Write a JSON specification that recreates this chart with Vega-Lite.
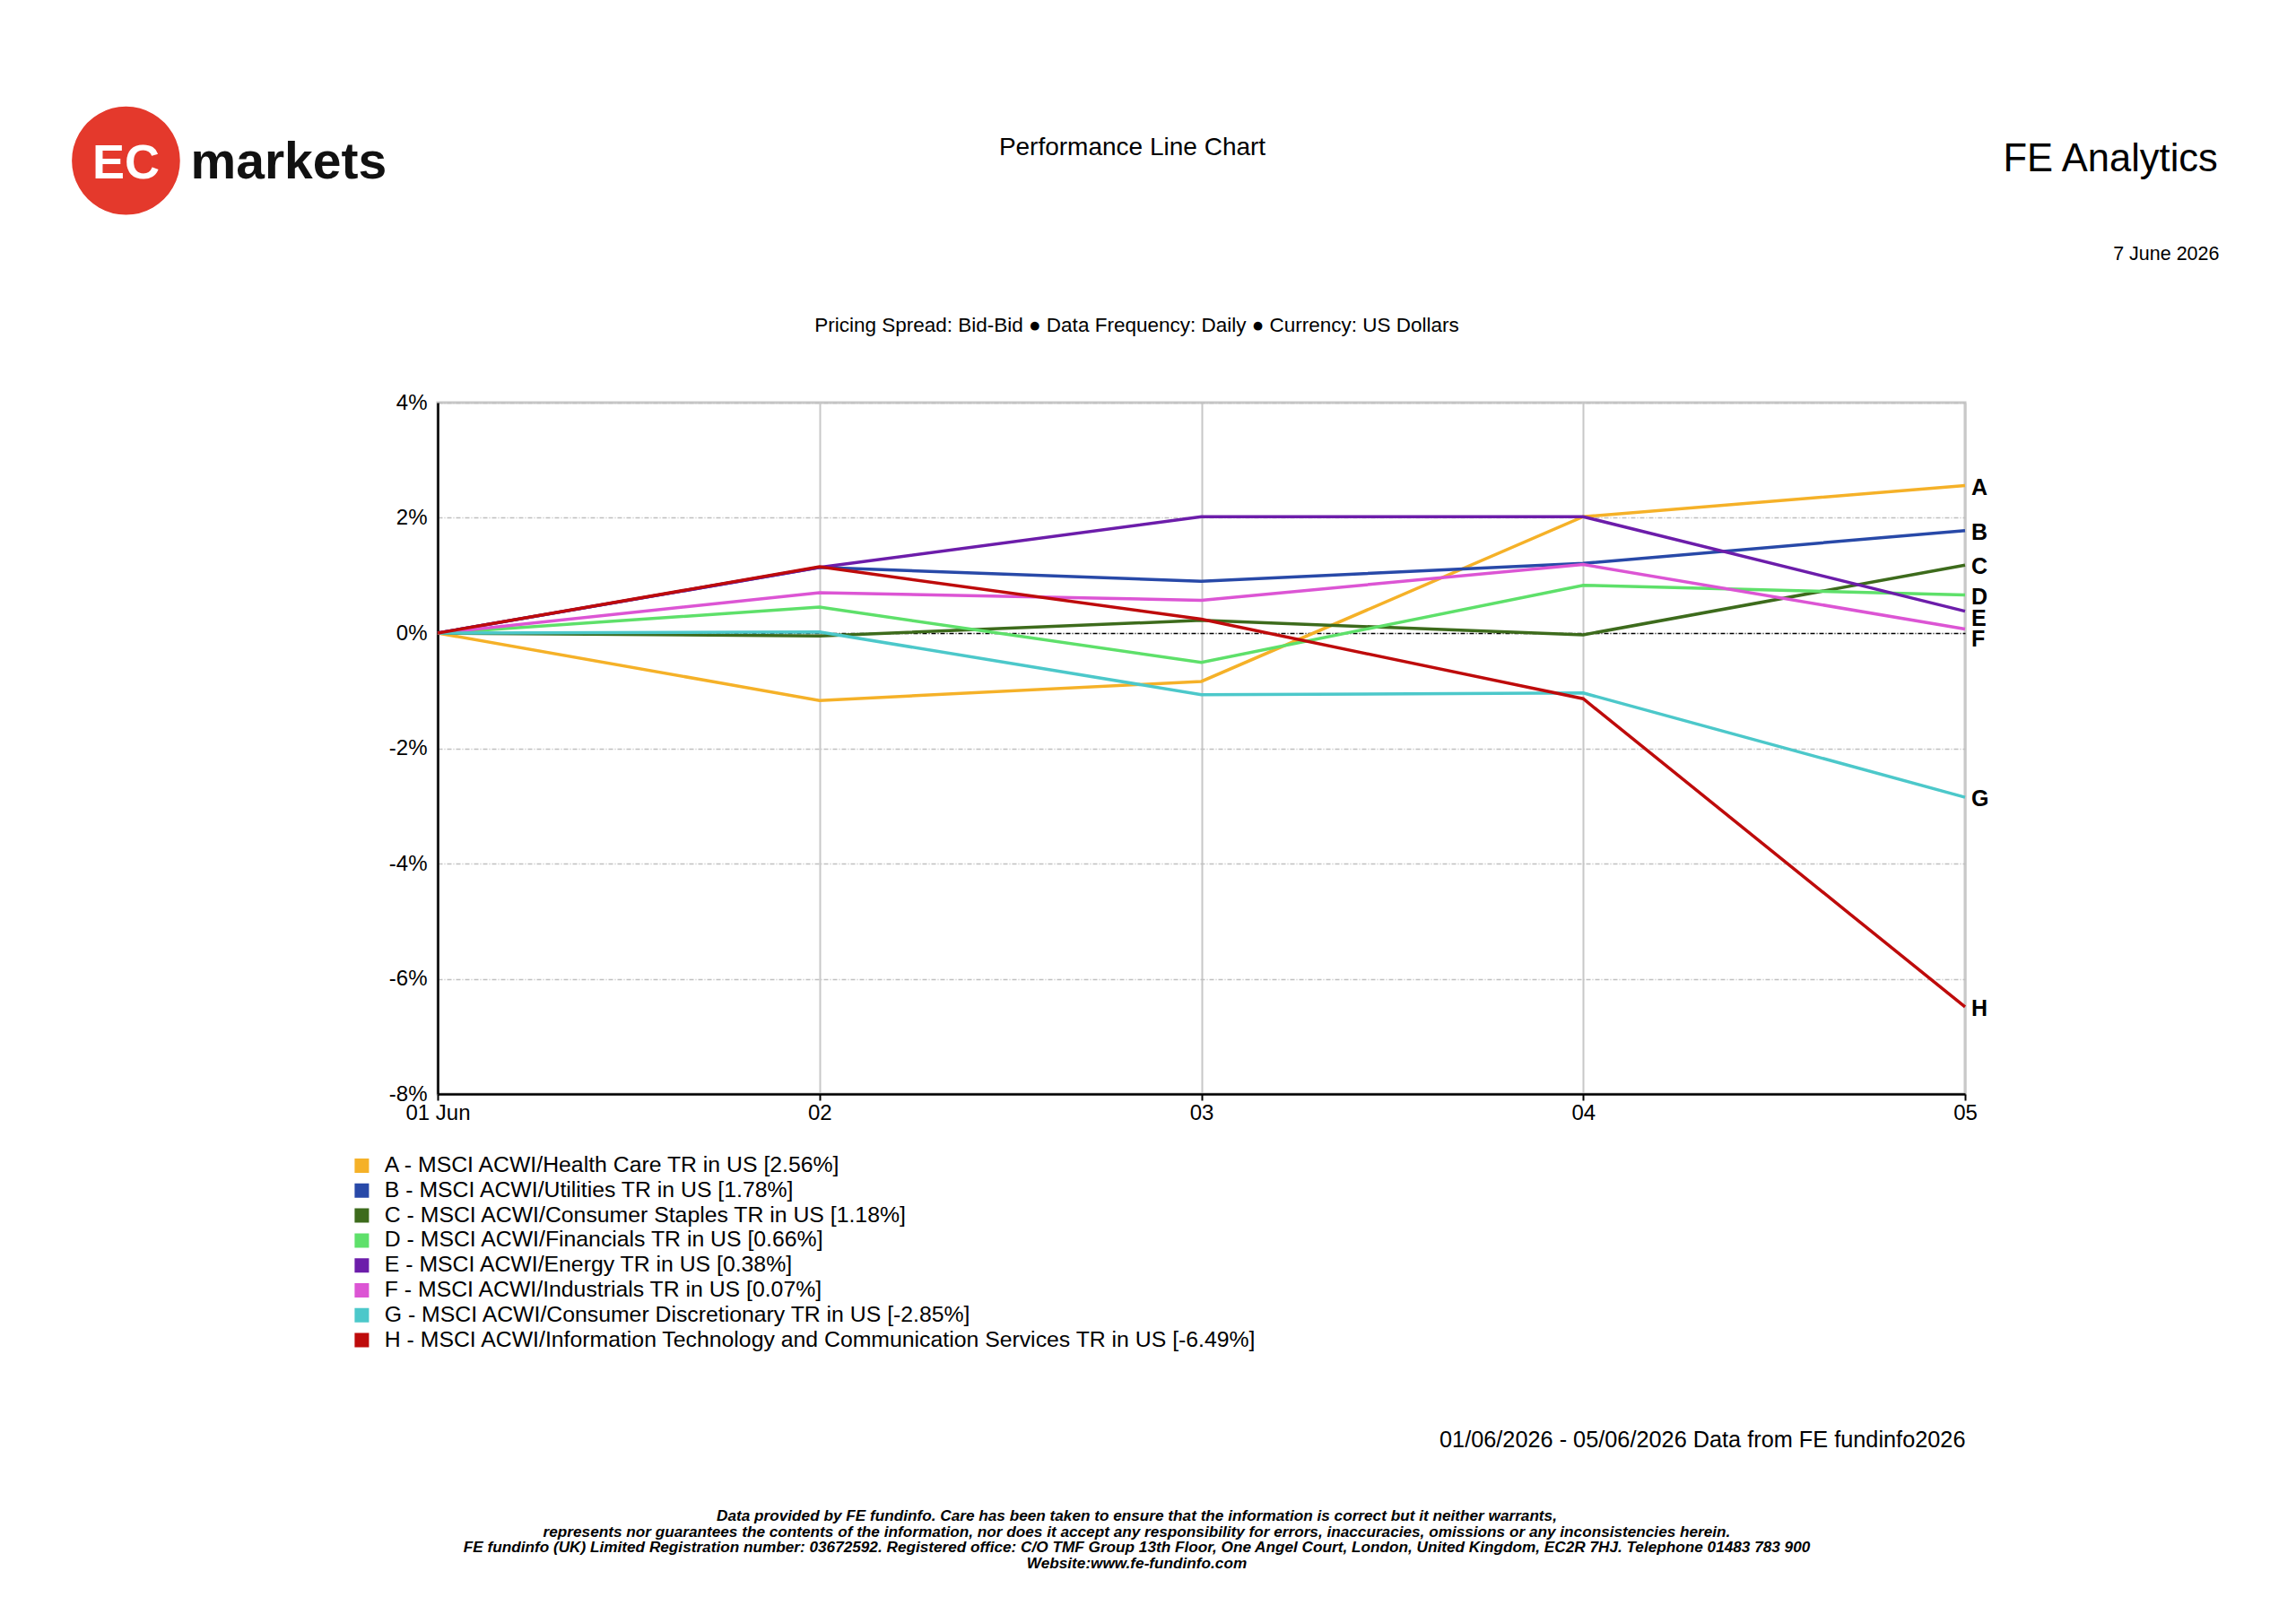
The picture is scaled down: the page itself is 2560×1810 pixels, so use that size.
{
  "$schema": "https://vega.github.io/schema/vega-lite/v6.json",
  "width": 1703,
  "height": 771,
  "autosize": {"type": "none"},
  "padding": {"left": 488, "top": 449, "right": 369, "bottom": 590},
  "background": "white",
  "config": {
    "view": {"stroke": "#C8C8C8", "strokeWidth": 3},
    "font": "Liberation Sans"
  },
  "title": {
    "text": [
      "Data provided by FE fundinfo. Care has been taken to ensure that the information is correct but it neither warrants,",
      "represents nor guarantees the contents of the information, nor does it accept any responsibility for errors, inaccuracies, omissions or any inconsistencies herein.",
      "FE fundinfo (UK) Limited Registration number: 03672592. Registered office: C/O TMF Group 13th Floor, One Angel Court, London, United Kingdom, EC2R 7HJ. Telephone 01483 783 900",
      "Website:www.fe-fundinfo.com"
    ],
    "orient": "bottom",
    "anchor": "middle",
    "frame": "group",
    "dx": -72,
    "offset": 64,
    "font": "Liberation Sans",
    "fontSize": 17.2,
    "fontStyle": "italic",
    "fontWeight": "bold",
    "lineHeight": 17.6,
    "color": "#000000"
  },
  "datasets": {
    "perf": [
      {"letter": "A", "date": "2026-06-01", "value": 0},
      {"letter": "A", "date": "2026-06-02", "value": -1.17},
      {"letter": "A", "date": "2026-06-03", "value": -0.84},
      {"letter": "A", "date": "2026-06-04", "value": 2.02},
      {"letter": "A", "date": "2026-06-05", "value": 2.56},
      {"letter": "B", "date": "2026-06-01", "value": 0},
      {"letter": "B", "date": "2026-06-02", "value": 1.14},
      {"letter": "B", "date": "2026-06-03", "value": 0.9},
      {"letter": "B", "date": "2026-06-04", "value": 1.21},
      {"letter": "B", "date": "2026-06-05", "value": 1.78},
      {"letter": "C", "date": "2026-06-01", "value": 0},
      {"letter": "C", "date": "2026-06-02", "value": -0.05},
      {"letter": "C", "date": "2026-06-03", "value": 0.22},
      {"letter": "C", "date": "2026-06-04", "value": -0.03},
      {"letter": "C", "date": "2026-06-05", "value": 1.18},
      {"letter": "D", "date": "2026-06-01", "value": 0},
      {"letter": "D", "date": "2026-06-02", "value": 0.45},
      {"letter": "D", "date": "2026-06-03", "value": -0.51},
      {"letter": "D", "date": "2026-06-04", "value": 0.83},
      {"letter": "D", "date": "2026-06-05", "value": 0.66},
      {"letter": "E", "date": "2026-06-01", "value": 0},
      {"letter": "E", "date": "2026-06-02", "value": 1.14},
      {"letter": "E", "date": "2026-06-03", "value": 2.02},
      {"letter": "E", "date": "2026-06-04", "value": 2.02},
      {"letter": "E", "date": "2026-06-05", "value": 0.38},
      {"letter": "F", "date": "2026-06-01", "value": 0},
      {"letter": "F", "date": "2026-06-02", "value": 0.7},
      {"letter": "F", "date": "2026-06-03", "value": 0.57},
      {"letter": "F", "date": "2026-06-04", "value": 1.19},
      {"letter": "F", "date": "2026-06-05", "value": 0.07},
      {"letter": "G", "date": "2026-06-01", "value": 0},
      {"letter": "G", "date": "2026-06-02", "value": 0.02},
      {"letter": "G", "date": "2026-06-03", "value": -1.07},
      {"letter": "G", "date": "2026-06-04", "value": -1.04},
      {"letter": "G", "date": "2026-06-05", "value": -2.85},
      {"letter": "H", "date": "2026-06-01", "value": 0},
      {"letter": "H", "date": "2026-06-02", "value": 1.15},
      {"letter": "H", "date": "2026-06-03", "value": 0.24},
      {"letter": "H", "date": "2026-06-04", "value": -1.14},
      {"letter": "H", "date": "2026-06-05", "value": -6.49}
    ],
    "names": [
      {"letter": "A", "series": "A - MSCI ACWI/Health Care TR in US [2.56%]"},
      {"letter": "B", "series": "B - MSCI ACWI/Utilities TR in US [1.78%]"},
      {"letter": "C", "series": "C - MSCI ACWI/Consumer Staples TR in US [1.18%]"},
      {"letter": "D", "series": "D - MSCI ACWI/Financials TR in US [0.66%]"},
      {"letter": "E", "series": "E - MSCI ACWI/Energy TR in US [0.38%]"},
      {"letter": "F", "series": "F - MSCI ACWI/Industrials TR in US [0.07%]"},
      {"letter": "G", "series": "G - MSCI ACWI/Consumer Discretionary TR in US [-2.85%]"},
      {"letter": "H", "series": "H - MSCI ACWI/Information Technology and Communication Services TR in US [-6.49%]"}
    ]
  },
  "data": {"name": "perf"},
  "layer": [
    {
      "transform": [
        {"lookup": "letter", "from": {"data": {"name": "names"}, "key": "letter", "fields": ["series"]}}
      ],
      "mark": {"type": "line", "strokeWidth": 3.5},
      "encoding": {
        "x": {
          "field": "date", "type": "temporal",
          "scale": {"type": "utc", "nice": false},
          "axis": {
            "orient": "bottom",
            "tickCount": {"interval": "day", "step": 1},
            "labelExpr": "utcdate(datum.value) == 1 ? '01 Jun' : utcFormat(datum.value, '%d')",
            "labelFont": "Liberation Sans", "labelFontSize": 24, "labelColor": "#000000",
            "labelPadding": 2, "labelFlush": false, "labelOverlap": false,
            "ticks": true, "tickColor": "#000000", "tickSize": 7, "tickWidth": 2,
            "domain": true, "domainColor": "#000000", "domainWidth": 2.5,
            "grid": true, "gridColor": "#C8C8C8", "gridWidth": 2,
            "title": "01/06/2026 - 05/06/2026 Data from FE fundinfo2026",
            "titleX": 1703, "titleY": 385, "titleAlign": "right", "titleBaseline": "middle", "titleAngle": 0,
            "titleFont": "Liberation Sans", "titleFontSize": 25.3, "titleFontWeight": "normal", "titleColor": "#000000"
          }
        },
        "y": {
          "field": "value", "type": "quantitative",
          "scale": {"domain": [-8, 4], "nice": false, "zero": false},
          "axis": {
            "orient": "left",
            "values": [-8, -6, -4, -2, 0, 2, 4],
            "labelExpr": "datum.value + '%'",
            "labelFont": "Liberation Sans", "labelFontSize": 24, "labelColor": "#000000", "labelPadding": 12,
            "ticks": false,
            "domain": true, "domainColor": "#000000", "domainWidth": 2.5,
            "grid": true,
            "gridColor": {"condition": {"test": "datum.value === 0", "value": "#000000"}, "value": "#C0C0C0"},
            "gridDash": [5, 2, 1, 2], "gridWidth": 1.5,
            "title": "Performance Line Chart",
            "titleX": 774, "titleY": -285, "titleAngle": 0, "titleAlign": "center", "titleBaseline": "middle",
            "titleFont": "Liberation Sans", "titleFontSize": 28, "titleFontWeight": "normal", "titleColor": "#000000"
          }
        },
        "color": {
          "field": "series", "type": "nominal",
          "scale": {
            "domain": [
              "A - MSCI ACWI/Health Care TR in US [2.56%]",
              "B - MSCI ACWI/Utilities TR in US [1.78%]",
              "C - MSCI ACWI/Consumer Staples TR in US [1.18%]",
              "D - MSCI ACWI/Financials TR in US [0.66%]",
              "E - MSCI ACWI/Energy TR in US [0.38%]",
              "F - MSCI ACWI/Industrials TR in US [0.07%]",
              "G - MSCI ACWI/Consumer Discretionary TR in US [-2.85%]",
              "H - MSCI ACWI/Information Technology and Communication Services TR in US [-6.49%]"
            ],
            "range": ["#F5B128", "#2849A8", "#3D6B1C", "#5EE06A", "#6C1DAA", "#DC55D4", "#4CC8CA", "#BE0B0B"]
          },
          "legend": {
            "orient": "none", "legendX": -97, "legendY": 839, "direction": "vertical",
            "title": null, "padding": 0,
            "symbolType": "square", "symbolSize": 64, "symbolStrokeWidth": 8, "symbolOpacity": 1,
            "labelFont": "Liberation Sans", "labelFontSize": 24.8, "labelColor": "#000000",
            "labelLimit": 1400, "labelOffset": 13, "clipHeight": 24, "rowPadding": 2.8
          }
        }
      }
    },
    {
      "transform": [{"filter": "time(datum.date) == time('2026-06-05') && datum.letter != 'E' && datum.letter != 'F'"}],
      "mark": {"type": "text", "align": "left", "baseline": "middle", "dx": 7, "dy": 2, "font": "Liberation Sans", "fontSize": 25, "fontWeight": "bold", "color": "#000000"},
      "encoding": {
        "x": {
          "field": "date", "type": "temporal", "scale": {"type": "utc", "nice": false},
          "axis": {
            "orient": "top", "labels": false, "ticks": false, "domain": false, "grid": false,
            "title": "Pricing Spread: Bid-Bid ● Data Frequency: Daily ● Currency: US Dollars",
            "titleX": 779, "titleY": -87, "titleAlign": "center", "titleBaseline": "middle", "titleAngle": 0,
            "titleFont": "Liberation Sans", "titleFontSize": 22.5, "titleFontWeight": "normal", "titleColor": "#000000"
          }
        },
        "y": {
          "field": "value", "type": "quantitative", "scale": {"domain": [-8, 4], "nice": false, "zero": false},
          "axis": {
            "orient": "right", "labels": false, "ticks": false, "domain": false, "grid": false,
            "title": "7 June 2026",
            "titleX": 283, "titleY": -166, "titleAlign": "right", "titleBaseline": "middle", "titleAngle": 0,
            "titleFont": "Liberation Sans", "titleFontSize": 21.5, "titleFontWeight": "normal", "titleColor": "#000000"
          }
        },
        "text": {"field": "letter"}
      }
    },
    {
      "transform": [{"filter": "time(datum.date) == time('2026-06-05') && datum.letter == 'E'"}],
      "mark": {"type": "text", "align": "left", "baseline": "middle", "dx": 7, "dy": 8, "font": "Liberation Sans", "fontSize": 25, "fontWeight": "bold", "color": "#000000"},
      "encoding": {
        "x": {
          "field": "date", "type": "temporal", "scale": {"type": "utc", "nice": false},
          "axis": {
            "orient": "top", "labels": false, "ticks": false, "domain": false, "grid": false,
            "title": "FE Analytics",
            "titleX": 1745, "titleY": -272, "titleAlign": "left", "titleBaseline": "middle", "titleAngle": 0,
            "titleFont": "Liberation Sans", "titleFontSize": 43.5, "titleFontWeight": "normal", "titleColor": "#000000"
          }
        },
        "y": {
          "field": "value", "type": "quantitative", "scale": {"domain": [-8, 4], "nice": false, "zero": false},
          "axis": {
            "orient": "left", "labels": false, "ticks": false, "domain": false, "grid": false,
            "title": "markets",
            "titleX": -276, "titleY": -251, "titleAlign": "left", "titleBaseline": "alphabetic", "titleAngle": 0,
            "titleFont": "Liberation Sans", "titleFontSize": 57, "titleFontWeight": "bold", "titleColor": "#111111"
          }
        },
        "text": {"field": "letter"}
      }
    },
    {
      "transform": [{"filter": "time(datum.date) == time('2026-06-05') && datum.letter == 'F'"}],
      "mark": {"type": "text", "align": "left", "baseline": "middle", "dx": 7, "dy": 11, "font": "Liberation Sans", "fontSize": 25, "fontWeight": "bold", "color": "#000000"},
      "encoding": {
        "x": {
          "field": "date", "type": "temporal", "scale": {"type": "utc", "nice": false},
          "axis": {
            "orient": "top", "labels": false, "ticks": false, "domain": false, "grid": false, "zindex": 3,
            "title": "EC",
            "titleX": -348, "titleY": -251, "titleAlign": "center", "titleBaseline": "alphabetic", "titleAngle": 0,
            "titleFont": "Liberation Sans", "titleFontSize": 54, "titleFontWeight": "bold", "titleColor": "#FFFFFF"
          }
        },
        "y": {
          "field": "value", "type": "quantitative", "scale": {"domain": [-8, 4], "nice": false, "zero": false},
          "axis": {
            "orient": "left", "labels": false, "ticks": false, "domain": false, "grid": false, "zindex": 2,
            "title": "●",
            "titleX": -348, "titleY": -230, "titleAlign": "center", "titleBaseline": "alphabetic", "titleAngle": 0,
            "titleFont": "DejaVu Sans", "titleFontSize": 158, "titleFontWeight": "normal", "titleColor": "#E4392C"
          }
        },
        "text": {"field": "letter"}
      }
    }
  ],
  "resolve": {"axis": {"x": "independent", "y": "independent"}}
}
